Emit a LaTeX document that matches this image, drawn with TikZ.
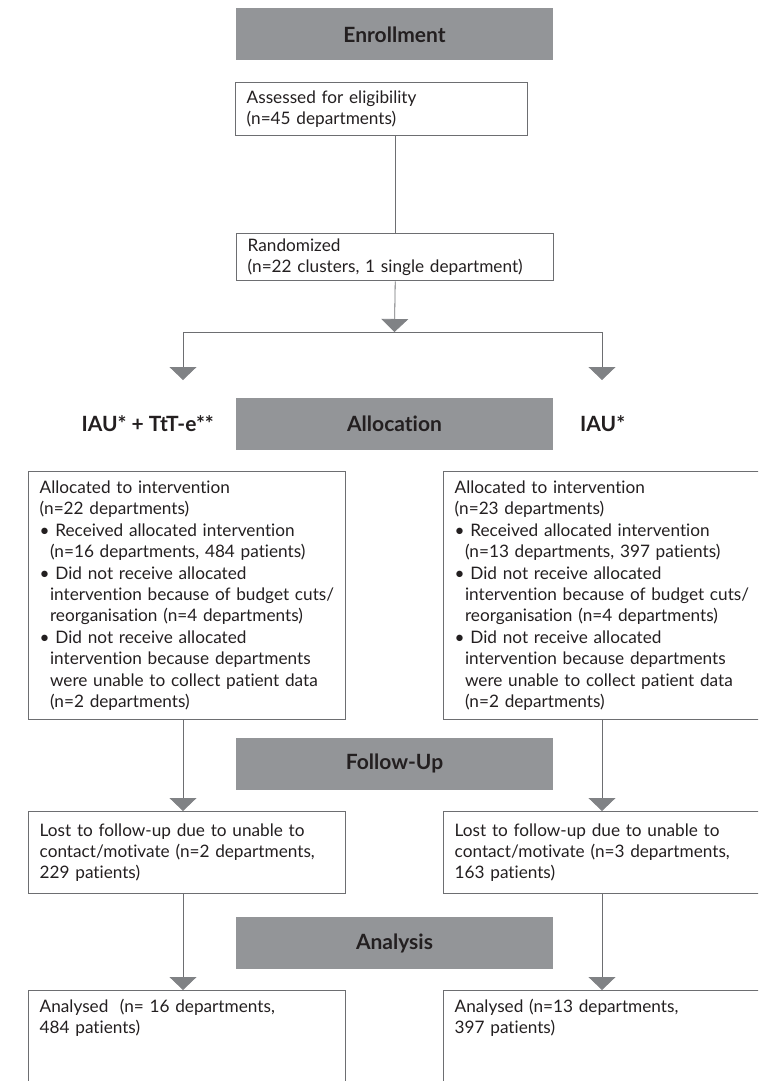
\documentclass[tikz,border=0pt]{standalone}
\usepackage{fontspec}
\setmainfont{Lato}[Ligatures=NoCommon]
\usepackage{xcolor}
\usetikzlibrary{arrows.meta, positioning}

\definecolor{hdrgray}{RGB}{147,149,152}
\definecolor{linegray}{RGB}{109,110,113}
\definecolor{trigray}{RGB}{128,130,133}
\definecolor{ink}{RGB}{35,31,32}
\newcommand{\bulindent}{\hspace*{0.6em}}

\begin{document}
\begin{tikzpicture}[
  x=1pt, y=-1pt,
  stage/.style={rectangle, fill=hdrgray, text=ink,
                minimum width=317pt, minimum height=52pt, inner sep=0pt,
                font=\bfseries\fontsize{21}{24}\selectfont},
  box/.style={rectangle, draw=linegray, line width=1.4pt, anchor=north west,
              minimum width=317pt, text width=295pt,
              inner xsep=11pt, inner ysep=0pt, align=left, text=ink,
              font=\fontsize{17.2}{21.4}\selectfont},
  arm/.style={font=\bfseries\fontsize{21}{24}\selectfont, text=ink, inner sep=0pt},
  flow/.style={draw=linegray, line width=0.8pt,
               -{Triangle[width=27pt, length=13pt, color=trigray]}},
  link/.style={draw=linegray, line width=0.8pt}
]
\useasboundingbox (0,0) rectangle (758,1081);
\clip (0,0) rectangle (758,1081);

% Enrollment
\node[stage] (enrol) at (394.5,34.5) {Enrollment};
\node[box, minimum width=292pt, text width=270pt, minimum height=53pt]
      (assess) at (235,82) {Assessed for eligibility\\(n=45 departments)};
\node[box, minimum height=47pt] (rand) at (236,233)
      {Randomized\\(n=22 clusters, 1 single department)};

% Split into the two arms
\coordinate (split) at (394.5,332);
\coordinate (lc) at (183,332);
\coordinate (rc) at (602,332);
\coordinate (lend) at (183,380);
\coordinate (rend) at (602,380);

% Allocation
\node[stage] (alloc) at (394.5,424) {Allocation};
\node[arm, anchor=east] (armA) at (214,424) {IAU* + TtT-e**};
\node[arm, anchor=west] (armB) at (580,424) {IAU*};

\node[box, minimum height=248pt] (intv) at (28,471)
  {Allocated to intervention\\
   (n=22 departments)\\
   \textbullet\ Received allocated intervention\\
   \bulindent(n=16 departments, 484 patients)\\
   \textbullet\ Did not receive allocated\\
   \bulindent\mbox{intervention because of budget cuts/}\\
   \bulindent reorganisation (n=4 departments)\\
   \textbullet\ Did not receive allocated\\
   \bulindent intervention because departments\\
   \bulindent\mbox{were unable to collect patient data}\\
   \bulindent(n=2 departments)};
\node[box, minimum height=248pt] (ctrl) at (443,471)
  {Allocated to intervention\\
   (n=23 departments)\\
   \textbullet\ Received allocated intervention\\
   \bulindent(n=13 departments, 397 patients)\\
   \textbullet\ Did not receive allocated\\
   \bulindent\mbox{intervention because of budget cuts/}\\
   \bulindent reorganisation (n=4 departments)\\
   \textbullet\ Did not receive allocated\\
   \bulindent intervention because departments\\
   \bulindent\mbox{were unable to collect patient data}\\
   \bulindent(n=2 departments)};

% Follow-Up
\node[stage] (follow) at (394.5,763.5) {Follow-Up};
\node[box, minimum height=82pt] (lostA) at (28,811)
  {Lost to follow-up due to unable to\\contact/motivate (n=2 departments,\\229 patients)};
\node[box, minimum height=82pt] (lostB) at (443,811)
  {Lost to follow-up due to unable to\\contact/motivate (n=3 departments,\\163 patients)};

% Analysis
\node[stage] (analysis) at (394.5,943) {Analysis};
\node[box, inner ysep=8pt, text depth=120pt] (anA) at (28,990)
  {Analysed\ \ (n= 16 departments,\\484 patients)};
\node[box, inner ysep=8pt, text depth=120pt] (anB) at (443,990)
  {Analysed (n=13 departments,\\397 patients)};

% Arrows: enrollment
\draw[link] (assess.south -| rand.north) -- (rand.north);
\draw[flow] (rand.south) -- (split);
\draw[link] (lc) -- (rc);
\draw[flow] (lc) -- (lend);
\draw[flow] (rc) -- (rend);

% Arrows: allocation -> follow-up -> analysis
\draw[flow] (intv.south -| lc) -- (lostA.north -| lc);
\draw[flow] (ctrl.south -| rc) -- (lostB.north -| rc);
\draw[flow] (lostA.south -| lc) -- (anA.north -| lc);
\draw[flow] (lostB.south -| rc) -- (anB.north -| rc);

\end{tikzpicture}
\end{document}
